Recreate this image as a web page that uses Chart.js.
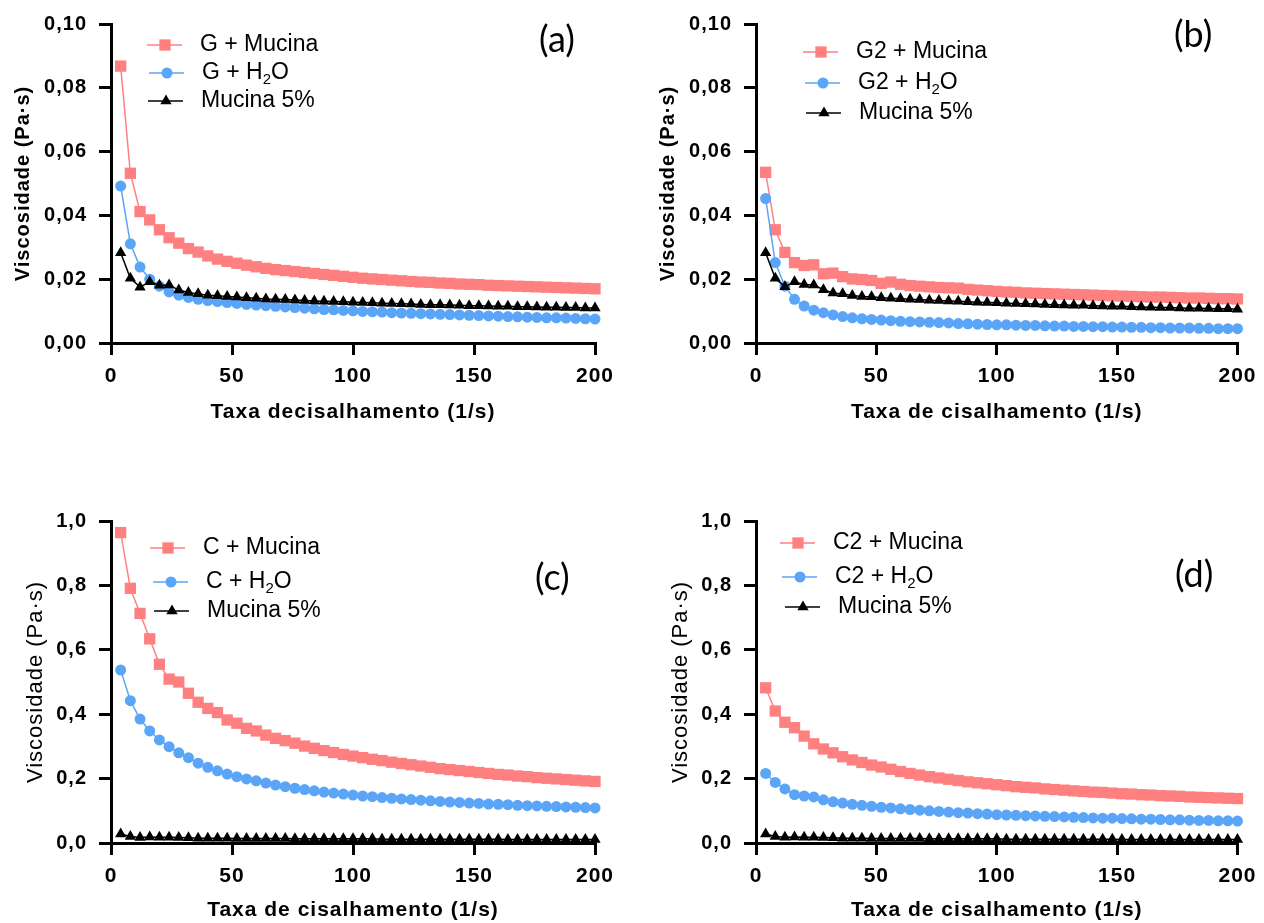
<!DOCTYPE html>
<html>
<head><meta charset="utf-8">
<title>Viscosidade x Taxa de cisalhamento</title>
<script src="https://cdn.jsdelivr.net/npm/chart.js"></script>
<style>
  body { margin: 0; background: #fff; width: 1264px; height: 923px; overflow: hidden; position: relative; }
  canvas { position: absolute; }
  .tag { position: absolute; font-family: Lato, "Open Sans", sans-serif; font-size: 36px; color: #000; line-height: 1; }
</style>
</head>
<body>
<canvas id="chartA" width="640" height="430" style="left:0;top:0"></canvas>
<canvas id="chartB" width="619" height="430" style="left:645px;top:0"></canvas>
<canvas id="chartC" width="640" height="443" style="left:0;top:480px"></canvas>
<canvas id="chartD" width="619" height="443" style="left:645px;top:480px"></canvas>
<div class="tag" style="left:539px;top:20px">(a)</div>
<div class="tag" style="left:1174px;top:15px">(b)</div>
<div class="tag" style="left:535px;top:558px">(c)</div>
<div class="tag" style="left:1175px;top:555px">(d)</div>

<script>
// shear rate (1/s)
var shearRate = [4, 8, 12, 16, 20, 24, 28, 32, 36, 40, 44, 48, 52, 56, 60, 64, 68, 72, 76, 80,
  84, 88, 92, 96, 100, 104, 108, 112, 116, 120, 124, 128, 132, 136, 140, 144, 148, 152, 156, 160,
  164, 168, 172, 176, 180, 184, 188, 192, 196, 200];

// (a)
var gMucina = [0.0868, 0.0532, 0.0412, 0.0386, 0.0355, 0.0330, 0.0313, 0.0296, 0.0285, 0.0273,
  0.0263, 0.0256, 0.0250, 0.0244, 0.0239, 0.0234, 0.0230, 0.0227, 0.0224, 0.0221,
  0.0218, 0.0215, 0.0212, 0.0209, 0.0206, 0.0203, 0.0201, 0.0199, 0.0197, 0.0195,
  0.0193, 0.0191, 0.0190, 0.0188, 0.0187, 0.0185, 0.0184, 0.0183, 0.0181, 0.0180,
  0.0179, 0.0178, 0.0177, 0.0176, 0.0175, 0.0174, 0.0173, 0.0172, 0.0171, 0.0170];
var gAgua = [0.0492, 0.0311, 0.0238, 0.0200, 0.0178, 0.0160, 0.0150, 0.0143, 0.0137, 0.0133,
  0.0130, 0.0127, 0.0124, 0.0121, 0.0119, 0.0117, 0.0115, 0.0113, 0.0111, 0.0109,
  0.0107, 0.0105, 0.0104, 0.0102, 0.0101, 0.0099, 0.0098, 0.0097, 0.0095, 0.0094,
  0.0093, 0.0092, 0.0091, 0.0090, 0.0089, 0.0088, 0.0087, 0.0086, 0.0085, 0.0084,
  0.0083, 0.0082, 0.0081, 0.0080, 0.0079, 0.0079, 0.0078, 0.0077, 0.0076, 0.0075];
var mucinaA = [0.0283, 0.0203, 0.0175, 0.0192, 0.0181, 0.0182, 0.0166, 0.0158, 0.0154, 0.0150,
  0.0148, 0.0146, 0.0144, 0.0142, 0.0140, 0.0138, 0.0137, 0.0136, 0.0135, 0.0133,
  0.0132, 0.0131, 0.0130, 0.0129, 0.0128, 0.0127, 0.0126, 0.0125, 0.0124, 0.0123,
  0.0122, 0.0121, 0.0120, 0.0120, 0.0119, 0.0118, 0.0117, 0.0117, 0.0116, 0.0115,
  0.0115, 0.0114, 0.0114, 0.0113, 0.0112, 0.0112, 0.0111, 0.0111, 0.0110, 0.0110];

// (b)
var g2Mucina = [0.0535, 0.0355, 0.0284, 0.0252, 0.0243, 0.0245, 0.0217, 0.0219, 0.0208, 0.0201,
  0.0199, 0.0196, 0.0187, 0.0191, 0.0184, 0.0180, 0.0178, 0.0176, 0.0174, 0.0173,
  0.0172, 0.0168, 0.0166, 0.0164, 0.0162, 0.0160, 0.0159, 0.0157, 0.0156, 0.0155,
  0.0154, 0.0153, 0.0152, 0.0151, 0.0150, 0.0149, 0.0148, 0.0147, 0.0146, 0.0145,
  0.0144, 0.0144, 0.0143, 0.0142, 0.0141, 0.0141, 0.0140, 0.0139, 0.0139, 0.0138];
var g2Agua = [0.0453, 0.0252, 0.0178, 0.0137, 0.0116, 0.0103, 0.0095, 0.0088, 0.0083, 0.0079,
  0.0076, 0.0074, 0.0072, 0.0070, 0.0068, 0.0067, 0.0066, 0.0065, 0.0064, 0.0063,
  0.0061, 0.0060, 0.0059, 0.0058, 0.0057, 0.0057, 0.0056, 0.0055, 0.0055, 0.0054,
  0.0053, 0.0053, 0.0052, 0.0052, 0.0051, 0.0051, 0.0050, 0.0050, 0.0049, 0.0049,
  0.0048, 0.0048, 0.0047, 0.0047, 0.0047, 0.0046, 0.0046, 0.0045, 0.0045, 0.0045];
var mucinaB = [0.0283, 0.0203, 0.0176, 0.0192, 0.0183, 0.0182, 0.0167, 0.0157, 0.0154, 0.0149,
  0.0146, 0.0145, 0.0142, 0.0140, 0.0139, 0.0137, 0.0136, 0.0134, 0.0133, 0.0132,
  0.0131, 0.0129, 0.0128, 0.0127, 0.0126, 0.0125, 0.0124, 0.0123, 0.0122, 0.0121,
  0.0120, 0.0119, 0.0118, 0.0118, 0.0117, 0.0116, 0.0115, 0.0115, 0.0114, 0.0113,
  0.0112, 0.0111, 0.0111, 0.0110, 0.0109, 0.0109, 0.0108, 0.0107, 0.0107, 0.0106];

// (c)
var cMucina = [0.964, 0.791, 0.713, 0.634, 0.555, 0.509, 0.500, 0.465, 0.437, 0.418,
  0.405, 0.382, 0.372, 0.356, 0.348, 0.335, 0.325, 0.318, 0.310, 0.301,
  0.294, 0.287, 0.281, 0.275, 0.270, 0.265, 0.260, 0.256, 0.251, 0.247,
  0.243, 0.239, 0.235, 0.231, 0.228, 0.225, 0.222, 0.219, 0.216, 0.213,
  0.211, 0.208, 0.206, 0.203, 0.201, 0.199, 0.197, 0.195, 0.193, 0.191];
var cAgua = [0.537, 0.442, 0.385, 0.348, 0.320, 0.299, 0.280, 0.265, 0.248, 0.235,
  0.224, 0.214, 0.206, 0.199, 0.193, 0.186, 0.180, 0.175, 0.170, 0.166,
  0.162, 0.158, 0.155, 0.152, 0.149, 0.146, 0.144, 0.141, 0.139, 0.137,
  0.135, 0.133, 0.131, 0.129, 0.127, 0.126, 0.124, 0.123, 0.121, 0.120,
  0.119, 0.117, 0.116, 0.115, 0.114, 0.113, 0.112, 0.111, 0.110, 0.109];
var mucinaC = [0.028, 0.020, 0.017, 0.019, 0.018, 0.018, 0.017, 0.016, 0.015, 0.015,
  0.015, 0.015, 0.014, 0.014, 0.014, 0.014, 0.014, 0.014, 0.013, 0.013,
  0.013, 0.013, 0.013, 0.013, 0.013, 0.013, 0.013, 0.012, 0.012, 0.012,
  0.012, 0.012, 0.012, 0.012, 0.012, 0.012, 0.012, 0.012, 0.012, 0.012,
  0.011, 0.011, 0.011, 0.011, 0.011, 0.011, 0.011, 0.011, 0.011, 0.011];

// (d)
var c2Mucina = [0.482, 0.410, 0.375, 0.358, 0.332, 0.308, 0.292, 0.280, 0.268, 0.258,
  0.250, 0.242, 0.236, 0.229, 0.222, 0.216, 0.211, 0.206, 0.202, 0.198,
  0.194, 0.190, 0.187, 0.184, 0.181, 0.178, 0.175, 0.173, 0.171, 0.168,
  0.166, 0.164, 0.162, 0.160, 0.158, 0.157, 0.155, 0.153, 0.152, 0.150,
  0.149, 0.147, 0.146, 0.145, 0.143, 0.142, 0.141, 0.140, 0.139, 0.138];
var c2Agua = [0.216, 0.188, 0.168, 0.150, 0.146, 0.143, 0.134, 0.128, 0.124, 0.120,
  0.117, 0.114, 0.111, 0.109, 0.106, 0.104, 0.102, 0.100, 0.098, 0.096,
  0.094, 0.093, 0.091, 0.090, 0.088, 0.087, 0.086, 0.085, 0.084, 0.083,
  0.082, 0.081, 0.080, 0.079, 0.078, 0.077, 0.077, 0.076, 0.075, 0.074,
  0.074, 0.073, 0.072, 0.072, 0.071, 0.070, 0.070, 0.069, 0.069, 0.068];
var mucinaD = [0.028, 0.020, 0.018, 0.019, 0.018, 0.018, 0.017, 0.016, 0.015, 0.015,
  0.015, 0.014, 0.014, 0.014, 0.014, 0.014, 0.014, 0.013, 0.013, 0.013,
  0.013, 0.013, 0.013, 0.013, 0.013, 0.012, 0.012, 0.012, 0.012, 0.012,
  0.012, 0.012, 0.012, 0.012, 0.012, 0.012, 0.012, 0.011, 0.011, 0.011,
  0.011, 0.011, 0.011, 0.011, 0.011, 0.011, 0.011, 0.011, 0.011, 0.011];

var PINK = '#ff8080';
var BLUE = '#5aa5f8';
var FONT = '"Liberation Sans", Arial, Helvetica, sans-serif';

function pts(ys) {
  return shearRate.map(function (x, i) { return { x: x, y: ys[i] }; });
}

function series(label, ys, color, style, r, order) {
  return {
    label: label, data: pts(ys), borderColor: color, backgroundColor: color,
    borderWidth: 1.5, pointStyle: style, pointRadius: r, pointHoverRadius: r,
    pointBorderWidth: 0, order: order, clip: false
  };
}

// legend inside the plot: short line + marker + text, like the original
var insideLegend = {
  id: 'insideLegend',
  afterDatasetsDraw: function (chart, args, o) {
    var ctx = chart.ctx;
    ctx.save();
    ctx.letterSpacing = '0px';
    chart.data.datasets.forEach(function (ds, i) {
      var x0 = o.x[i], y = o.y[i];
      ctx.strokeStyle = ds.borderColor;
      ctx.lineWidth = 1.5;
      ctx.beginPath();
      ctx.moveTo(x0, y);
      ctx.lineTo(x0 + 35, y);
      ctx.stroke();
      ctx.fillStyle = ds.backgroundColor;
      Chart.helpers.drawPoint(ctx, { pointStyle: ds.pointStyle, radius: ds.pointRadius, borderWidth: 0, rotation: 0 }, x0 + 18, y);
      ctx.fillStyle = '#000';
      ctx.textBaseline = 'middle';
      var tx = x0 + 53;
      var parts = ds.label.split('\u2082');
      parts.forEach(function (p, k) {
        ctx.font = '23px ' + FONT;
        ctx.fillText(p, tx, y);
        tx += ctx.measureText(p).width;
        if (k < parts.length - 1) {
          ctx.font = '15px ' + FONT;
          ctx.fillText('2', tx, y + 7);
          tx += ctx.measureText('2').width;
        }
      });
    });
    ctx.restore();
  }
};

var spacing = {
  id: 'spacing',
  beforeDraw: function (chart) { chart.ctx.letterSpacing = '1px'; }
};

function makeChart(id, p) {
  new Chart(document.getElementById(id), {
    type: 'line',
    data: { datasets: p.datasets },
    options: {
      responsive: false,
      animation: false,
      events: [],
      layout: { padding: { left: 0, top: p.top, right: p.right, bottom: 0 } },
      plugins: { legend: { display: false }, tooltip: { enabled: false }, insideLegend: p.legend },
      scales: {
        x: {
          type: 'linear', min: 0, max: 200,
          ticks: { stepSize: 50, color: '#000', padding: 9, maxRotation: 0,
            font: { family: FONT, size: 21, weight: 'bold' } },
          grid: { drawOnChartArea: false, drawTicks: true, tickLength: 12, color: '#000', lineWidth: 3 },
          border: { display: true, color: '#000', width: 3 },
          title: { display: true, text: p.xTitle, color: '#000', padding: { top: 0, bottom: p.xPad },
            font: { family: FONT, size: 21, weight: 'bold' } },
          afterFit: function (s) { s.height = p.xh; }
        },
        y: {
          min: 0, max: p.ymax,
          ticks: { stepSize: p.ymax / 5, color: '#000', padding: 12,
            font: { family: FONT, size: 20, weight: 'bold' },
            callback: function (v) { return v.toFixed(p.dec).replace('.', ','); } },
          grid: { drawOnChartArea: false, drawTicks: true, tickLength: 12, color: '#000', lineWidth: 3 },
          border: { display: true, color: '#000', width: 3 },
          title: { display: true, text: 'Viscosidade (Pa\u00b7s)', color: '#000', padding: { top: p.yPad, bottom: 0 },
            font: { family: FONT, size: p.ySize, weight: p.yWeight } },
          afterFit: function (s) { s.width = 111; }
        }
      }
    },
    plugins: [spacing, insideLegend]
  });
}

makeChart('chartA', {
  datasets: [
    series('G + Mucina', gMucina, PINK, 'rect', 8, 2),
    series('G + H\u2082O', gAgua, BLUE, 'circle', 5.5, 1),
    series('Mucina 5%', mucinaA, '#000', 'triangle', 6.5, 0)
  ],
  top: 21, right: 45, xh: 87, xPad: 5, ymax: 0.1, dec: 2,
  xTitle: 'Taxa decisalhamento (1/s)', yPad: 11, ySize: 20, yWeight: 'bold',
  legend: { x: [147, 149, 148], y: [45, 73, 101] }
});

makeChart('chartB', {
  datasets: [
    series('G2 + Mucina', g2Mucina, PINK, 'rect', 8, 2),
    series('G2 + H\u2082O', g2Agua, BLUE, 'circle', 5.5, 1),
    series('Mucina 5%', mucinaB, '#000', 'triangle', 6.5, 0)
  ],
  top: 21, right: 24, xh: 87, xPad: 5, ymax: 0.1, dec: 2,
  xTitle: 'Taxa de cisalhamento (1/s)', yPad: 11, ySize: 20, yWeight: 'bold',
  legend: { x: [158, 160, 161], y: [52, 83, 113] }
});

makeChart('chartC', {
  datasets: [
    series('C + Mucina', cMucina, PINK, 'rect', 8, 2),
    series('C + H\u2082O', cAgua, BLUE, 'circle', 5.5, 1),
    series('Mucina 5%', mucinaC, '#000', 'triangle', 6.5, 0)
  ],
  top: 41, right: 45, xh: 80, xPad: 0, ymax: 1.0, dec: 1,
  xTitle: 'Taxa de cisalhamento (1/s)', yPad: 23, ySize: 22, yWeight: 'normal',
  legend: { x: [150, 153, 154], y: [68, 102, 131] }
});

makeChart('chartD', {
  datasets: [
    series('C2 + Mucina', c2Mucina, PINK, 'rect', 8, 2),
    series('C2 + H\u2082O', c2Agua, BLUE, 'circle', 5.5, 1),
    series('Mucina 5%', mucinaD, '#000', 'triangle', 6.5, 0)
  ],
  top: 41, right: 24, xh: 80, xPad: 0, ymax: 1.0, dec: 1,
  xTitle: 'Taxa de cisalhamento (1/s)', yPad: 23, ySize: 22, yWeight: 'normal',
  legend: { x: [135, 137, 140], y: [63, 97, 127] }
});
</script>
</body>
</html>
